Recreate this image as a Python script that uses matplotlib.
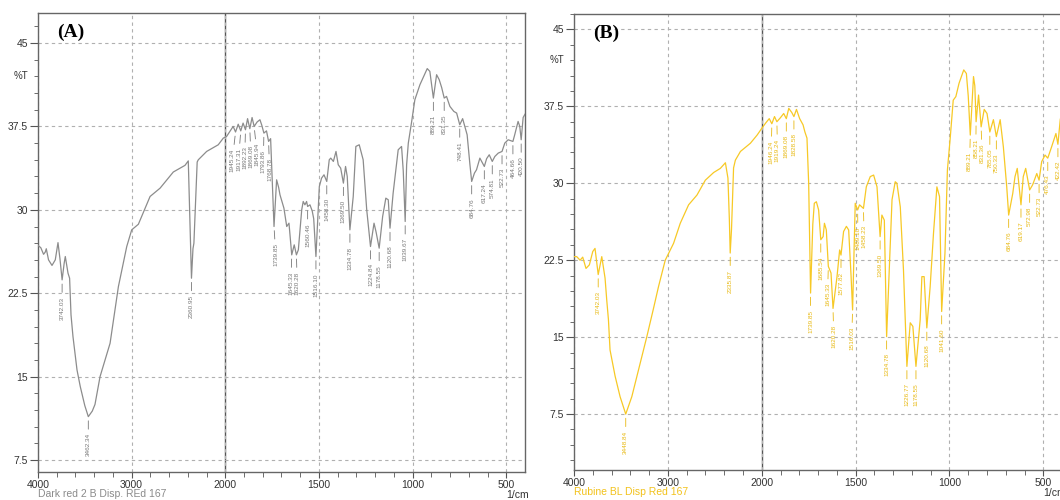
import numpy as np
import matplotlib.pyplot as plt
from matplotlib.ticker import FixedLocator, MultipleLocator, FuncFormatter

plt.rcParams['font.family'] = ['Liberation Sans', 'DejaVu Sans']

# ---- spectrum A (Dark red 2B) ----
a_wn = [4000, 3970, 3940, 3922, 3911, 3887, 3850, 3815, 3786, 3765, 3742.03, 3720, 3708, 3690,
        3679, 3662, 3647, 3626, 3583, 3548, 3500, 3462.34, 3420, 3391, 3337, 3280, 3230, 3141,
        3052, 2999, 2928, 2803, 2696, 2555, 2430, 2395, 2360.95, 2345, 2335, 2300, 2288, 2199,
        2075, 2021, 1993, 1970, 1958, 1945.24, 1931, 1917.31, 1905, 1892.23, 1881, 1869.08, 1857,
        1845.94, 1830, 1815, 1805, 1793.86, 1780, 1768.78, 1758, 1750, 1739.85, 1733, 1726, 1715,
        1708, 1695, 1687, 1672, 1660, 1645.33, 1632, 1620.28, 1610, 1592, 1584, 1575, 1566,
        1560.46, 1548, 1536, 1528, 1516.10, 1504, 1498, 1486, 1473, 1458.30, 1445, 1437, 1423,
        1409, 1397, 1384, 1369.50, 1358, 1349, 1334.78, 1317, 1303, 1285, 1264, 1245, 1224.84,
        1206, 1195, 1178.55, 1160, 1143, 1130, 1120.68, 1104, 1077, 1059, 1050, 1039.67, 1032,
        1023, 1005, 988, 961, 922, 908, 889.21, 872, 858, 845, 831.35, 819, 801, 780, 765,
        748.41, 733, 709, 694, 684.76, 670, 659, 641, 627, 617.24, 605, 591, 574.81, 561, 543,
        522.73, 508, 490, 464.66, 455, 437, 428, 420.50, 410, 400]
a_t = [26.8, 26.6, 26.0, 26.2, 26.5, 25.5, 25.0, 25.5, 27.05, 25.6, 23.7, 25.2, 25.8, 24.9,
       24.3, 23.85, 20.55, 18.6, 15.6, 14.1, 12.4, 11.4, 11.9, 12.5, 15.0, 16.6, 18.0, 23.1,
       26.7, 28.2, 28.7, 31.2, 31.95, 33.4, 34.0, 34.4, 23.85, 26.5, 27.0, 34.3, 34.5, 35.25,
       35.85, 36.45, 36.6, 37.2, 37.5, 37.0, 37.7, 37.1, 37.8, 37.2, 38.2, 37.3, 38.3,
       37.5, 37.9, 38.1, 37.6, 36.9, 37.1, 36.15, 36.4, 33.0, 28.5, 30.5, 32.7, 32.0,
       31.35, 30.6, 30.15, 28.5, 28.8, 25.95, 26.85, 25.95, 26.4, 30.0, 30.75, 30.45, 30.75,
       30.3, 30.45, 29.9, 29.2, 25.8, 30.0, 32.1, 32.85, 33.15, 32.55, 34.5, 34.65, 34.35,
       35.25, 34.05, 33.75, 32.4, 33.9, 33.0, 28.2, 31.2, 35.7, 35.85, 34.5, 30.0, 26.7,
       28.8, 28.0, 26.55, 29.4, 31.05, 30.9, 28.35, 31.5, 35.4, 35.7, 33.5, 28.95, 34.05,
       36.0, 37.95, 39.9, 41.25, 42.7, 42.45, 40.05, 42.15, 41.7, 41.0, 40.05, 40.2, 39.3, 38.85, 38.7,
       37.65, 38.2, 36.75, 34.05, 32.55, 33.3, 33.6, 34.65, 34.2, 33.9, 34.6, 34.95, 34.35, 34.8, 35.1,
       35.25, 36.0, 36.3, 36.15, 36.75, 37.95, 37.5, 36.3, 38.3, 38.6]
a_peaks = [3742.03, 3462.34, 2360.95, 1945.24, 1917.31, 1892.23, 1869.08, 1845.94, 1793.86,
           1768.78, 1739.85, 1645.33, 1620.28, 1560.46, 1516.10, 1458.30, 1369.50, 1334.78,
           1224.84, 1178.55, 1120.68, 1039.67, 889.21, 831.35, 748.41, 684.76, 617.24, 574.81,
           522.73, 464.66, 420.50]

# ---- spectrum B (Rubine BL) ----
b_wn = [4000, 3971, 3935, 3907, 3872, 3836, 3800, 3776, 3742.03, 3704, 3669, 3651, 3633, 3616,
        3562, 3509, 3448.84, 3384, 3313, 3224, 3153, 3099, 3028, 2939, 2868, 2779, 2690, 2601,
        2512, 2441, 2387, 2360, 2345, 2335.87, 2322, 2300, 2281, 2227, 2121, 2049, 2000, 1980,
        1960, 1946.24, 1932, 1919.24, 1900, 1883, 1869.08, 1856, 1840, 1828.58, 1815, 1798, 1780,
        1770, 1759, 1750, 1739.85, 1728, 1720, 1709, 1697, 1685.54, 1673, 1666, 1656, 1645.33,
        1631, 1620.28, 1599, 1585, 1577.82, 1564, 1549, 1537, 1524, 1516.03, 1502, 1489.10, 1479,
        1458.23, 1443, 1422, 1404, 1386, 1369.50, 1360, 1347, 1334.78, 1306, 1289, 1280, 1262,
        1245, 1226.77, 1209, 1195, 1178.55, 1156, 1147, 1135, 1120.68, 1103, 1085, 1067, 1053,
        1041.60, 1024, 1011, 997, 980, 966, 949, 924, 910, 900, 889.21, 872, 865, 858.21, 845,
        831.36, 815, 800, 785.05, 766, 750.33, 730, 713, 695, 684.76, 663, 651, 639, 619.17, 607,
        594, 572.98, 557, 535, 522.73, 509, 491, 476.43, 456, 433, 422.42, 410, 400]
b_t = [22.85, 22.85, 22.5, 22.8, 21.7, 22.05, 23.35, 23.65, 21.1, 22.85, 20.75, 18.6, 16.7, 13.75,
       11.2, 9.2, 7.5, 9.2, 11.8, 15.05, 17.8, 19.95, 22.5, 24.15, 26.1, 27.9, 28.85, 30.3,
       31.05, 31.45, 32.0, 30.5, 26.5, 23.2, 25.5, 31.5, 32.25, 33.1, 33.9, 34.7, 35.35, 35.85,
       36.3, 35.8, 36.5, 36.0, 36.4, 36.8, 36.3, 37.3, 36.9, 36.5, 37.2, 36.3, 35.7,
       35.0, 34.4, 30.0, 19.3, 26.0, 28.05, 28.2, 27.4, 24.5, 24.8, 26.1, 25.45, 21.9,
       21.25, 17.8, 20.9, 23.5, 23.0, 25.3, 25.8, 25.45, 20.9, 17.65, 28.05, 27.4, 27.9,
       27.55, 29.65, 30.65, 30.8, 29.65, 24.8, 26.9, 26.4, 15.05, 28.4, 30.15, 30.0, 27.7,
       21.55, 12.15, 16.4, 16.05, 12.15, 16.7, 20.9, 20.9, 15.9, 19.9, 25.15, 29.65, 28.7,
       17.5, 23.2, 31.3, 34.2, 38.1, 38.45, 39.75, 41.05, 40.7, 38.5, 34.7, 40.4, 39.5, 36.0, 38.6,
       35.5, 37.2, 36.8, 35.0, 36.2, 34.55, 36.2, 33.55, 29.65, 26.9, 29.0, 30.65, 31.45, 27.9, 30.65,
       31.45, 29.35, 29.85, 30.95, 30.3, 32.1, 32.75, 32.45, 33.55, 34.85, 33.8, 36.2, 37.0]
b_peaks = [3742.03, 3448.84, 2335.87, 1946.24, 1919.24, 1869.08, 1828.58, 1739.85, 1685.54,
           1645.33, 1620.28, 1577.82, 1516.03, 1489.10, 1458.23, 1369.50, 1334.78, 1226.77,
           1178.55, 1120.68, 1041.60, 889.21, 858.21, 831.36, 785.05, 750.33, 684.76, 619.17,
           572.98, 522.73, 476.43, 422.42]

DPI = 100


def fwd(x):
    # region above 2000 1/cm is drawn at half scale
    x = np.asarray(x, dtype=float)
    return np.where(x > 2000, 2000 + (x - 2000) / 2, x)


def inv(y):
    y = np.asarray(y, dtype=float)
    return np.where(y > 2000, 2000 + (y - 2000) * 2, y)


def setup_axes(ax, ylim, tag, sample, sample_color):
    ax.set_xscale('function', functions=(fwd, inv))
    ax.set_xlim(4000, 400)
    ax.set_ylim(*ylim)
    ax.xaxis.set_major_locator(FixedLocator([4000, 3000, 2000, 1500, 1000, 500]))
    ax.xaxis.set_minor_locator(FixedLocator(list(range(3800, 2000, -200)) + list(range(1900, 400, -100))))
    ax.xaxis.set_major_formatter(FuncFormatter(lambda v, p: f"{v:.0f}"))
    ax.yaxis.set_major_locator(MultipleLocator(7.5))
    ax.yaxis.set_minor_locator(MultipleLocator(1.5))
    ax.yaxis.set_major_formatter(FuncFormatter(lambda v, p: f"{v:g}"))
    ax.tick_params(which='both', direction='out', colors='#555555', labelcolor='#333333', labelsize=7.5)
    ax.tick_params(axis='y', which='major', length=5.5, pad=1.5)
    ax.tick_params(axis='y', which='minor', length=3)
    ax.tick_params(axis='x', which='major', length=4, pad=2)
    ax.tick_params(axis='x', which='minor', length=3.5)
    ax.grid(True, which='major', ls=(0, (3, 3)), color='#b0b0b0', lw=0.8)
    ax.axvline(2000, color='#555555', lw=1.0, zorder=1)
    for s in ax.spines.values():
        s.set_color('#666666')
        s.set_linewidth(1.0)
    ax.annotate('%T', xy=(0, 42), xycoords=('axes fraction', 'data'), xytext=(-7, 0),
                textcoords='offset points', ha='right', va='center', fontsize=7, color='#333333')
    ax.annotate(tag, xy=(0, 1), xycoords='axes fraction', xytext=(14, -14), textcoords='offset points',
                ha='left', va='center', fontsize=14, fontweight='bold', family='Liberation Serif')
    ax.annotate(sample, xy=(0, 0), xycoords='axes fraction', xytext=(0, -12.5), textcoords='offset points',
                ha='left', va='top', fontsize=7.5, color=sample_color)
    ax.annotate('1/cm', xy=(500, 0), xycoords=('data', 'axes fraction'), xytext=(8, -13),
                textcoords='offset points', ha='center', va='top', fontsize=7.5, color='#333333')


def spread(px, gap):
    # push neighbouring peak labels apart so the vertical texts do not collide
    pos = np.array(px, dtype=float)
    order = np.argsort(pos)
    for _ in range(200):
        moved = False
        for i, j in zip(order[:-1], order[1:]):
            d = pos[j] - pos[i]
            if d < gap:
                shift = (gap - d) / 2
                pos[i] -= shift
                pos[j] += shift
                moved = True
        if not moved:
            break
    return pos


def draw_spectrum(ax, wn, t, peaks, color, label_color):
    ax.plot(wn, t, color=color, lw=0.9, zorder=3)
    ys = [np.interp(p, wn[::-1], t[::-1]) for p in peaks]
    px = [ax.transData.transform((p, y))[0] for p, y in zip(peaks, ys)]
    pos = spread(px, 6.2)
    for p, y, x0, x1 in zip(peaks, ys, px, pos):
        dx = (x1 - x0) * 72 / DPI
        ax.annotate(f"{p:.2f}", xy=(p, y), xytext=(dx, -12), textcoords='offset points',
                    rotation=90, ha='center', va='top', fontsize=4.6, color=label_color,
                    arrowprops=dict(arrowstyle='-', color=label_color, lw=0.6, shrinkA=1, shrinkB=3),
                    zorder=4)


fig = plt.figure(figsize=(10.6, 5), dpi=DPI)
ax_a = fig.add_axes([0.0358, 0.0566, 0.4595, 0.9174])
ax_b = fig.add_axes([0.5415, 0.06, 0.4605, 0.912])

setup_axes(ax_a, (6.45, 47.7), '(A)', 'Dark red 2 B Disp. REd 167', '#8a8a8a')
setup_axes(ax_b, (2.05, 46.5), '(B)', 'Rubine BL Disp Red 167', '#f2c21b')

draw_spectrum(ax_a, np.array(a_wn), np.array(a_t), a_peaks, '#8c8c8c', '#777777')
draw_spectrum(ax_b, np.array(b_wn), np.array(b_t), b_peaks, '#f7c926', '#e8b912')

fig.savefig('out.png', dpi=DPI)
